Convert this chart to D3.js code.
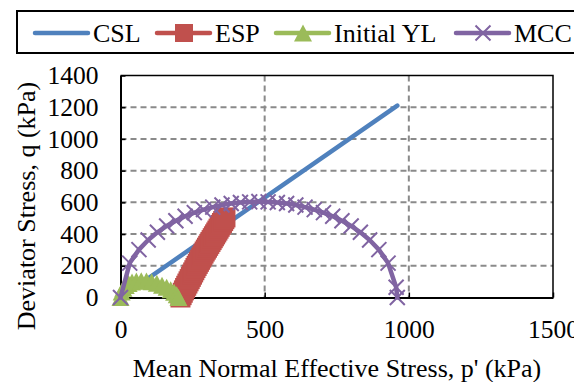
<!DOCTYPE html>
<html>
<head>
<meta charset="utf-8">
<script src="https://cdn.jsdelivr.net/npm/d3@7"></script>
<style>
  html, body { margin: 0; padding: 0; background: #fff; }
  svg { display: block; }
</style>
</head>
<body>
<svg id="chart" width="574" height="382"></svg>
<script>
// Critical state line
const cslP = [0, 960];
const cslQ = [0, 1210];

// Effective stress path (densely recorded test points)
const espP = [208, 212, 216, 220, 224, 228, 232, 236, 240, 244, 248, 252, 256, 260, 264, 268, 272, 276, 280, 284,
              288, 292, 296, 300, 304, 308, 312, 316, 320, 324, 328, 332, 336, 340, 344, 348, 352, 356, 360, 364];
const espQ = [0, 15, 30, 45, 60, 74, 88, 102, 116, 130, 144, 158, 172, 186, 199, 212, 225, 238, 251, 264,
              277, 290, 302, 314, 326, 338, 350, 362, 374, 386, 398, 410, 422, 434, 446, 458, 470, 482, 494, 505];

// Initial yield locus
const iylP = [0, 4, 10, 18, 28, 40, 55, 72, 90, 108, 126, 144, 160, 174, 186, 195, 201];
const iylQ = [0, 35, 58, 76, 89, 98, 104, 106, 104, 99, 90, 78, 64, 49, 33, 17, 0];

// Modified Cam-Clay yield surface
const mccP = [0, 32, 64, 96, 128, 160, 192, 224, 256, 288, 320, 352, 384, 416, 448, 480,
              512, 544, 576, 608, 640, 672, 704, 736, 768, 800, 832, 864, 896, 928, 956, 960];
const mccQ = [0, 217, 302, 363, 411, 451, 484, 512, 535, 554, 570, 583, 593, 599, 603, 605,
              603, 599, 593, 583, 570, 554, 535, 512, 484, 451, 411, 363, 302, 217, 65, 0];

const xTicks = [0, 500, 1000, 1500];
const yTicks = [0, 200, 400, 600, 800, 1000, 1200, 1400];

const seriesNames = ["CSL", "ESP", "Initial YL", "MCC"];
const seriesColors = ["#4f81bd", "#c0504d", "#9bbb59", "#8064a2"];

const FONT = "'Liberation Serif', 'Times New Roman', 'DejaVu Serif', serif";

const svg = d3.select("#chart");
const plotL = 120.5, plotR = 553, plotT = 75.5, plotB = 297.5;
const x = d3.scaleLinear().domain([0, 1500]).range([plotL, plotR]);
const y = d3.scaleLinear().domain([0, 1400]).range([plotB, plotT]);

// Dashed grid lines
const grid = svg.append("g")
  .attr("stroke", "#8a8a8a").attr("stroke-width", 2).attr("stroke-dasharray", "6,4");
grid.selectAll("line.h").data(yTicks.filter(v => v > 0 && v < 1400)).join("line")
  .attr("class", "h")
  .attr("x1", plotL).attr("x2", plotR).attr("y1", d => y(d)).attr("y2", d => y(d));
grid.selectAll("line.v").data(xTicks.filter(v => v > 0 && v < 1500)).join("line")
  .attr("class", "v")
  .attr("y1", plotT).attr("y2", plotB).attr("x1", d => x(d)).attr("x2", d => x(d));

// Plot frame (top and right)
svg.append("path")
  .attr("d", `M${plotL},${plotT}H${plotR}V${plotB}`)
  .attr("fill", "none").attr("stroke", "#000").attr("stroke-width", 1.5);

// Axes
const fmt = d3.format("d");
const yAxis = svg.append("g").attr("transform", `translate(${plotL},0)`)
  .call(d3.axisLeft(y).tickValues(yTicks).tickFormat(fmt).tickSizeInner(-5).tickSizeOuter(0).tickPadding(22));
const xAxis = svg.append("g").attr("transform", `translate(0,${plotB})`)
  .call(d3.axisBottom(x).tickValues(xTicks).tickFormat(fmt).tickSizeInner(-5).tickSizeOuter(0).tickPadding(22));
[yAxis, xAxis].forEach(g => {
  g.attr("font-family", FONT).attr("font-size", 25.5);
  g.select(".domain").attr("stroke", "#000").attr("stroke-width", 2);
  g.selectAll(".tick line").attr("stroke", "#000").attr("stroke-width", 1.5);
  g.selectAll(".tick text").attr("fill", "#000");
});

// Axis titles
svg.append("text")
  .attr("transform", "translate(35,206) rotate(-90)")
  .attr("text-anchor", "middle").attr("font-family", FONT).attr("font-size", 26)
  .text("Deviator Stress, q (kPa)");
svg.append("text")
  .attr("x", 337).attr("y", 377)
  .attr("text-anchor", "middle").attr("font-family", FONT).attr("font-size", 26)
  .text("Mean Normal Effective Stress, p' (kPa)");

// Marker shapes
const squareSize = 20;
const triW = 18, triH = 17;
const crossSize = 15;
function drawSquare(g, cx, cy, color, s) {
  const sz = s || squareSize;
  g.append("rect").attr("x", cx - sz / 2).attr("y", cy - sz / 2)
    .attr("width", sz).attr("height", sz).attr("fill", color);
}
function drawTriangle(g, cx, cy, color) {
  g.append("path")
    .attr("d", `M${cx},${cy - triH / 2}L${cx + triW / 2},${cy + triH / 2}L${cx - triW / 2},${cy + triH / 2}Z`)
    .attr("fill", color);
}
function drawCross(g, cx, cy, color) {
  const h = crossSize / 2;
  g.append("path")
    .attr("d", `M${cx - h},${cy - h}L${cx + h},${cy + h}M${cx - h},${cy + h}L${cx + h},${cy - h}`)
    .attr("stroke", color).attr("stroke-width", 2).attr("fill", "none");
}

const line = d3.line().x(d => x(d[0])).y(d => y(d[1]));
function drawSeries(ps, qs, color, marker) {
  const pts = ps.map((p, i) => [p, qs[i]]);
  const g = svg.append("g");
  g.append("path").datum(pts).attr("d", line)
    .attr("fill", "none").attr("stroke", color).attr("stroke-width", 4.5)
    .attr("stroke-linecap", "round").attr("stroke-linejoin", "round");
  if (marker) pts.forEach(d => marker(g, x(d[0]), y(d[1]), color));
}

drawSeries(cslP, cslQ, seriesColors[0], null);
drawSeries(espP, espQ, seriesColors[1], drawSquare);
drawSeries(iylP, iylQ, seriesColors[2], drawTriangle);
drawSeries(mccP, mccQ, seriesColors[3], drawCross);

// Legend
const legend = svg.append("g");
legend.append("rect").attr("x", 17).attr("y", 11).attr("width", 600).attr("height", 42)
  .attr("fill", "#fff").attr("stroke", "#000").attr("stroke-width", 2);
const legendX = [35, 157, 276, 456];
const markers = [null, (g, cx, cy, c) => drawSquare(g, cx, cy, c, 18), drawTriangle, drawCross];
const ly = 33;
seriesNames.forEach((name, i) => {
  const lx = legendX[i];
  legend.append("line").attr("x1", lx).attr("x2", lx + 53).attr("y1", ly).attr("y2", ly)
    .attr("stroke", seriesColors[i]).attr("stroke-width", 4.5).attr("stroke-linecap", "round");
  if (markers[i]) markers[i](legend, lx + 27, ly, seriesColors[i]);
  legend.append("text").attr("x", lx + 58).attr("y", 42)
    .attr("font-family", FONT).attr("font-size", 26).text(name);
});
</script>
</body>
</html>
